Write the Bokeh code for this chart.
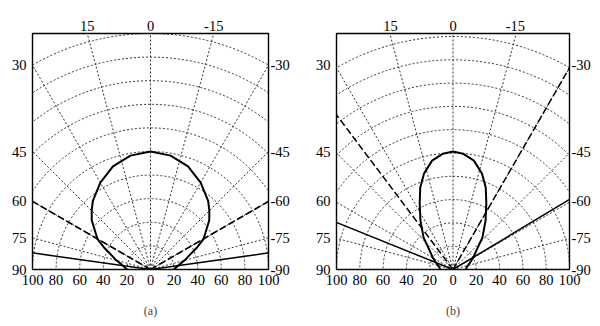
import math
from bokeh.plotting import figure
from bokeh.models import Range1d, FixedTicker, LinearAxis
from bokeh.layouts import row
from bokeh.embed import file_html
from bokeh.resources import INLINE

# ---------------- data ----------------
grid_radii = [20, 40, 60, 80, 100, 120, 140, 160, 180, 200]
grid_angles = [-90, -75, -60, -45, -30, -15, 0, 15, 30, 45, 60, 75, 90]

x_ticks = [-100, -80, -60, -40, -20, 0, 20, 40, 60, 80, 100]
x_tick_labels = ["100", "80", "60", "40", "20", "0", "20", "40", "60", "80", "100"]

side_angles = [30, 45, 60, 75, 90]
left_labels = ["30", "45", "60", "75", "90"]
right_labels = ["-30", "-45", "-60", "-75", "-90"]
top_angles = [15, 0, -15]
top_labels = ["15", "0", "-15"]

# panel (a) : relative intensity (%) versus angle (deg)
lobe_a_deg = [0, 10, 20, 30, 40, 45, 50, 60, 65, 70, 75, 80, 85, 90]
lobe_a_r = [100, 98, 93, 85, 76, 70.5, 65, 52, 43, 35, 30, 25, 22, 20]
dash_a_deg = [60, -60]
solid_a_deg = [82, -82]

# panel (b)
lobe_b_deg = [0, 5, 11, 17, 22, 27, 34, 43, 51, 60, 70, 80, 90]
lobe_b_r = [100, 98.5, 94, 85, 75, 63, 50, 37, 26, 20, 15, 12, 11]
dash_b_deg = [37, -30]
solid_b_deg = [68, -59]

FONT = "Liberation Serif"


def style_axis(ax):
    ax.axis_line_color = None
    ax.major_tick_line_color = None
    ax.minor_tick_line_color = None
    ax.major_tick_out = 0
    ax.major_tick_in = 0
    ax.major_label_text_font = FONT
    ax.major_label_text_font_size = "14.5px"
    ax.major_label_text_color = "black"


def make_panel(lobe_deg, lobe_r, dash_deg, solid_deg, caption,
               bl, fw, br, bt, fh, bb):
    p = figure(frame_width=fw, frame_height=fh,
               x_range=Range1d(-100, 100), y_range=Range1d(0, 200),
               output_backend="svg", toolbar_location=None,
               x_axis_location=None, y_axis_location=None,
               min_border_left=bl, min_border_right=br,
               min_border_top=bt, min_border_bottom=bb)
    p.grid.visible = False
    p.outline_line_color = "black"
    p.outline_line_width = 1.4
    p.background_fill_color = "white"
    p.border_fill_color = "white"

    # polar grid
    n = len(grid_radii)
    p.arc(x=[0] * n, y=[0] * n, radius=grid_radii,
          start_angle=0, end_angle=math.pi,
          line_color="#333333", line_width=1, line_dash="2 2")
    m = len(grid_angles)
    p.ray(x=[0] * m, y=[0] * m, length=0,
          angle=[90 + a for a in grid_angles], angle_units="deg",
          line_color="#333333", line_width=1, line_dash="2 2")

    # straight reference lines
    p.ray(x=[0] * len(dash_deg), y=[0] * len(dash_deg), length=0,
          angle=[90 + a for a in dash_deg], angle_units="deg",
          line_color="black", line_width=1.5, line_dash="7 3")
    p.ray(x=[0] * len(solid_deg), y=[0] * len(solid_deg), length=0,
          angle=[90 + a for a in solid_deg], angle_units="deg",
          line_color="black", line_width=1.5)

    # lobe (symmetric)
    deg_full = [-d for d in reversed(lobe_deg[1:])] + lobe_deg
    r_full = list(reversed(lobe_r[1:])) + lobe_r
    xs = [-r * math.sin(math.radians(d)) for d, r in zip(deg_full, r_full)]
    ys = [r * math.cos(math.radians(d)) for d, r in zip(deg_full, r_full)]
    p.line(xs, ys, line_color="black", line_width=2)

    # bottom axis
    bottom = LinearAxis(ticker=FixedTicker(ticks=x_ticks),
                        major_label_overrides=dict(zip(x_ticks, x_tick_labels)))
    style_axis(bottom)
    bottom.major_label_standoff = 5
    bottom.axis_label = caption
    bottom.axis_label_text_font = FONT
    bottom.axis_label_text_font_size = "12px"
    bottom.axis_label_text_font_style = "normal"
    bottom.axis_label_standoff = 16
    p.add_layout(bottom, "below")

    # side axes: where the angle rays leave the box
    side_y = []
    for a in side_angles:
        if a == 90:
            side_y.append(0.0)
        else:
            side_y.append(round(100.0 / math.tan(math.radians(a)), 6))
    left = LinearAxis(ticker=FixedTicker(ticks=side_y),
                      major_label_overrides=dict(zip(side_y, left_labels)))
    style_axis(left)
    left.major_label_standoff = 6
    p.add_layout(left, "left")
    right = LinearAxis(ticker=FixedTicker(ticks=side_y),
                       major_label_overrides=dict(zip(side_y, right_labels)))
    style_axis(right)
    right.major_label_standoff = 2
    p.add_layout(right, "right")

    top_x = [round(-200.0 * math.tan(math.radians(a)), 6) + 0.0 for a in top_angles]
    top = LinearAxis(ticker=FixedTicker(ticks=top_x),
                     major_label_overrides=dict(zip(top_x, top_labels)))
    style_axis(top)
    top.major_label_standoff = 3
    p.add_layout(top, "above")
    return p


pa = make_panel(lobe_a_deg, lobe_a_r, dash_a_deg, solid_a_deg, "(a)",
                32, 236, 32, 29, 236, 61)
pb = make_panel(lobe_b_deg, lobe_b_r, dash_b_deg, solid_b_deg, "(b)",
                36, 233, 31, 33, 236, 57)

layout = row(pa, pb)
open("out.html", "w").write(file_html(layout, INLINE))
